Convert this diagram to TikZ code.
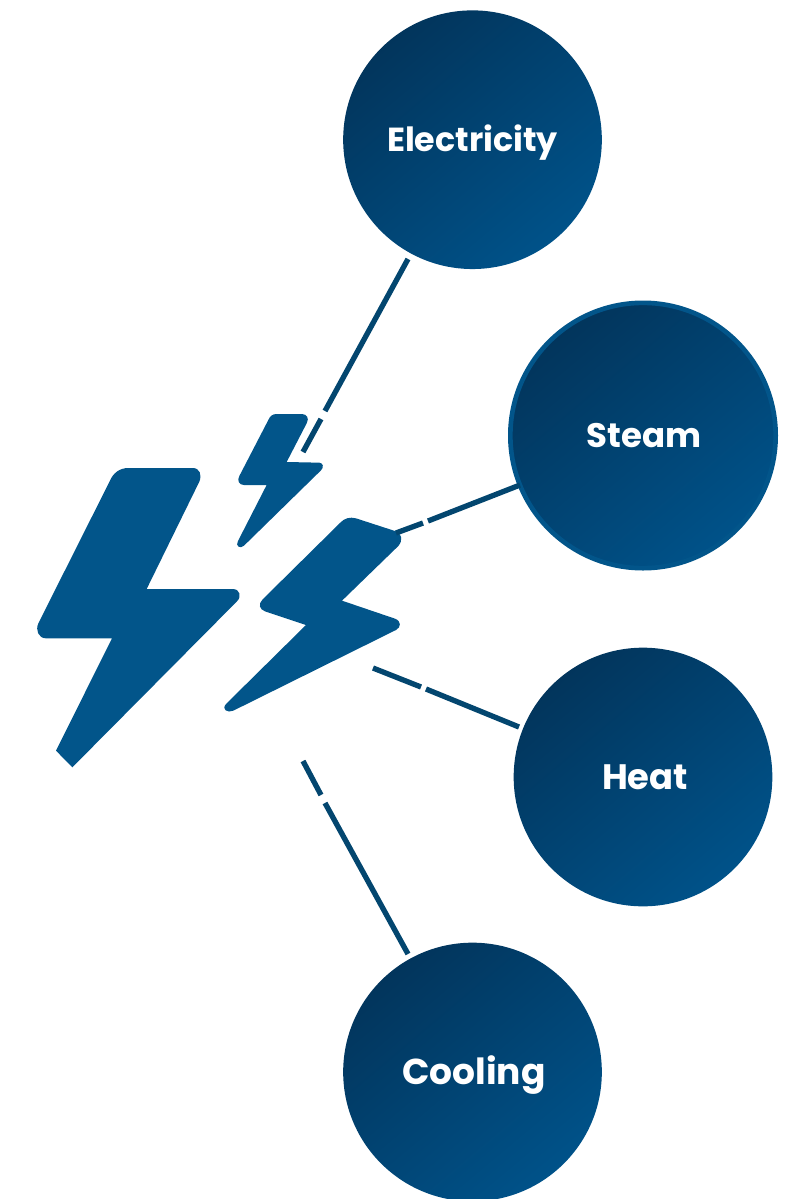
\documentclass[tikz,border=0pt]{standalone}
\usepackage{fontspec}
\setmainfont{Poppins}
\definecolor{bolt}{HTML}{02558A}
\definecolor{wire}{HTML}{03466F}
\definecolor{cdark}{HTML}{02355C}
\definecolor{clight}{HTML}{005289}
\tikzset{
 x=0.75pt,y=-0.75pt,
 hub/.style={circle,inner sep=0pt,minimum size=194pt,top color=cdark,bottom color=clight,shading angle=40,text=white,text height=18pt,text depth=0pt},
 wirel/.style={draw=wire,line width=4pt},
 boltf/.style={fill=bolt,draw=none}
}
\newcommand{\lab}[1]{\fontsize{#1}{30}\selectfont\bfseries}
\begin{document}
\begin{tikzpicture}
\useasboundingbox (0,0) rectangle (790,1199);
\node[hub,font=\lab{25}] (elec) at (472.5,139.7) {Electricity};
\node[hub,minimum size=199pt,draw=bolt,line width=3.5pt,font=\lab{25.5}] (steam) at (643,435.5) {\hspace*{1.5pt}Steam};
\node[hub,font=\lab{26.5}] (heat) at (643,777) {\hspace*{3pt}Heat};
\node[hub,font=\lab{27}] (cool) at (472.5,1072) {\hspace*{2pt}Cooling};
\begin{scope}[shift={(20,390)},scale=1/3]
\fill[boltf] (325,234) -- (518,234) .. controls (540,234) and (546,255) .. (538,275) -- (380,597) -- (638,597) .. controls (660,597) and (666,620) .. (650,635) -- (157,1132) -- (108,1082) -- (276,745) -- (78,745) .. controls (55,745) and (46,720) .. (55,700) -- (270,272) .. controls (280,248) and (300,234) .. (325,234) -- cycle;
\fill[boltf] (770,72) -- (845,72) .. controls (862,72) and (868,85) .. (860,100) -- (800,216) -- (898,218) .. controls (910,219) and (912,232) .. (903,241) -- (672,467) .. controls (660,478) and (645,468) .. (654,453) -- (740,285) -- (672,285) .. controls (658,285) and (650,272) .. (658,258) -- (745,90) .. controls (750,78) and (758,72) .. (770,72) -- cycle;
\fill[boltf] (962,397) .. controls (973,385) and (990,380) .. (1008,385) -- (1125,423) .. controls (1146,430) and (1150,450) .. (1135,468) -- (966,632) -- (1125,686) .. controls (1144,693) and (1144,712) .. (1128,720) -- (640,962) .. controls (622,970) and (604,958) .. (618,942) -- (858,705) -- (735,664) .. controls (718,658) and (714,642) .. (728,628) -- cycle;
\end{scope}
\coordinate (e0) at (408,259); \coordinate (e1) at (303,452); \coordinate (e2) at (321,419); \coordinate (e3) at (325,411);
\draw[wirel] (e0) -- (e3);
\draw[wirel] (e2) -- (e1);
\coordinate (s0) at (520,485); \coordinate (s1) at (396,533); \coordinate (s2) at (423,523); \coordinate (s3) at (428,521);
\draw[wirel] (s0) -- (s3);
\draw[wirel] (s2) -- (s1);
\coordinate (h0) at (519,727); \coordinate (h1) at (373,668); \coordinate (h2) at (421,687); \coordinate (h3) at (426,689);
\draw[wirel] (h0) -- (h3);
\draw[wirel] (h2) -- (h1);
\coordinate (c0) at (408,954); \coordinate (c1) at (303,761); \coordinate (c2) at (321,795); \coordinate (c3) at (325,803);
\draw[wirel] (c0) -- (c3);
\draw[wirel] (c2) -- (c1);
\end{tikzpicture}
\end{document}
